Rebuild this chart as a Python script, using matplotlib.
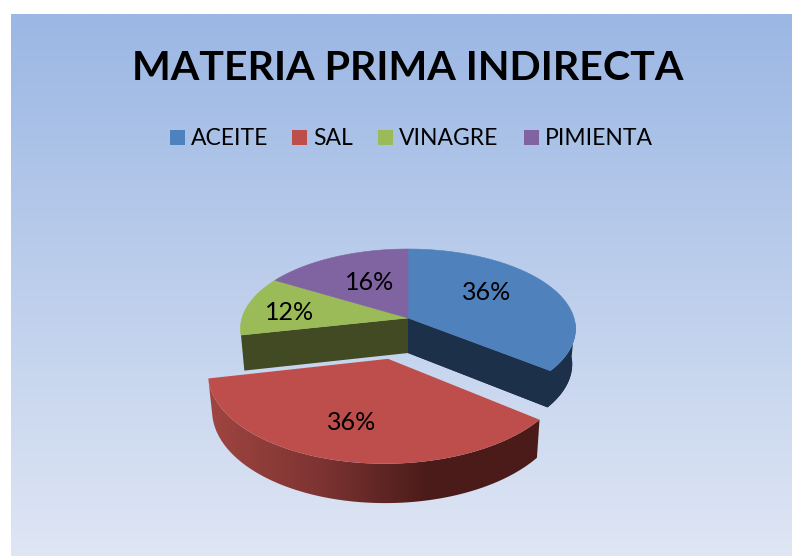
import numpy as np
import matplotlib
matplotlib.use('Agg')
import matplotlib.pyplot as plt
from matplotlib.patches import Polygon, Rectangle
from matplotlib.colors import LinearSegmentedColormap

plt.rcParams['font.family'] = ['Lato', 'DejaVu Sans']

title = 'MATERIA PRIMA INDIRECTA'
categories = ['ACEITE', 'SAL', 'VINAGRE', 'PIMIENTA']
values = [35.6, 36.0, 12.0, 16.4]
labels = ['36%', '36%', '12%', '16%']

# styling
top_colors = ['#4f81bd', '#be4e4b', '#9bbb59', '#8064a2']
side_colors = ['#1d3049', '#4a1b19', '#414a23', '#32274a']
label_pos = [(487, 292), (352, 423), (290, 313), (370, 282)]
legend_box_x = [170, 292, 378, 524]
legend_text_x = [191, 313, 399, 545]
exploded = [0, 0.50, 0, 0]

# pie geometry in pixels
cx, cy = 408, 318
rx, ry = 166, 78.3
persp = 0.135
depth = 35


def project(u, v, z=0):
    # u,v on the pie disc, z=1 is the bottom of the pie
    s = 1 / (1 + persp * v)
    x = cx + rx * u * s
    y = cy - ry * v * s + depth * (1 + 0.5 * (s - 1)) * z
    x = cx + (x - cx) * (1 - 0.02 * z)
    return x, y


def rim(a1, a2, off=(0, 0), z=0, n=80):
    t = np.radians(np.linspace(a1, a2, n))
    return project(np.cos(t) + off[0], np.sin(t) + off[1], z)


fig = plt.figure(figsize=(7.92, 5.56), dpi=100)
ax = fig.add_axes([0, 0, 1, 1])

# background panel
bg = LinearSegmentedColormap.from_list('bg', ['#9bb7e4', '#dfe6f4'])
ax.imshow(np.linspace(0, 1, 256).reshape(-1, 1), cmap=bg, aspect='auto',
          extent=(11, 792, 556, 14), zorder=0)

angles = 90 - np.cumsum([0] + values) / sum(values) * 360
offsets = []
for i in range(len(values)):
    mid = np.radians((angles[i] + angles[i + 1]) / 2)
    offsets.append((exploded[i] * np.cos(mid), exploded[i] * np.sin(mid)))

x0, y0 = project(0, 0)
x1, y1 = project(0, 0, 1)

# green cut face
t = np.radians(angles[2])
x2, y2 = project(np.cos(t), np.sin(t), 1)
x3, y3 = project(np.cos(t), np.sin(t))
ax.add_patch(Polygon([(x0, y0), (x1, y1), (x2, y2), (x3, y3)], fc=side_colors[2], ec='none', zorder=2))

# blue cut face and outer side as one shape, only the part that shows
xt, yt = rim(-3, angles[1])
xb, yb = rim(-3, angles[1], z=1)
blue_side = np.r_[[(x0, y0), (x1, y1)], np.c_[xb, yb][::-1], np.c_[xt, yt]]
ax.add_patch(Polygon(blue_side, fc=side_colors[0], ec='none', zorder=2))
ax.add_patch(Polygon(np.r_[[(x0, y0), (x1, y1)], np.c_[xb, yb][::-1], [(xt[-1], yt[-1])]],
                     fc=side_colors[0], ec='none', zorder=2))

# top faces of the other slices
for i in [0, 2, 3]:
    x, y = rim(angles[i], angles[i + 1])
    ax.add_patch(Polygon(np.r_[[(x0, y0)], np.c_[x, y]], fc=top_colors[i], ec=top_colors[i], lw=0.4, zorder=3))

# red slice, side with a left to right shading, image clipped to the side shape
side = LinearSegmentedColormap.from_list('side', ['#a04541', '#7d3432', '#4a1b19', '#4a1b19'])
xt, yt = rim(angles[1], angles[2], offsets[1], n=160)
xb, yb = rim(angles[1], angles[2], offsets[1], z=1, n=160)
side_shape = Polygon(np.r_[np.c_[xt, yt], np.c_[xb, yb][::-1]], fc='none', ec='none', zorder=4)
ax.add_patch(side_shape)
im = ax.imshow(np.linspace(0, 1, 256).reshape(1, -1), cmap=side, aspect='auto',
               extent=(xt.min(), xt.max() + 1, yb.max() + 1, yt.min()), zorder=4)
im.set_clip_path(side_shape)

xr, yr = project(offsets[1][0], offsets[1][1])
ax.add_patch(Polygon(np.r_[[(xr, yr)], np.c_[xt, yt]], fc=top_colors[1], ec='none', zorder=5))

ax.set_xlim(0, 792)
ax.set_ylim(556, 0)
ax.axis('off')

for lab, (lx, ly) in zip(labels, label_pos):
    ax.text(lx, ly, lab, fontsize=18, color='black', ha='center', va='center', zorder=6)

# title and legend
ax.text(407.5, 80, title, fontsize=29.6, fontweight='bold', color='black', ha='center', va='baseline', zorder=6)
for name, c, bx, tx in zip(categories, top_colors, legend_box_x, legend_text_x):
    ax.add_patch(Rectangle((bx, 130), 15, 15, fc=c, ec='none', zorder=6))
    ax.text(tx, 145, name, fontsize=16.5, color='black', ha='left', va='baseline', zorder=6)

fig.savefig('out.png', dpi=100)
